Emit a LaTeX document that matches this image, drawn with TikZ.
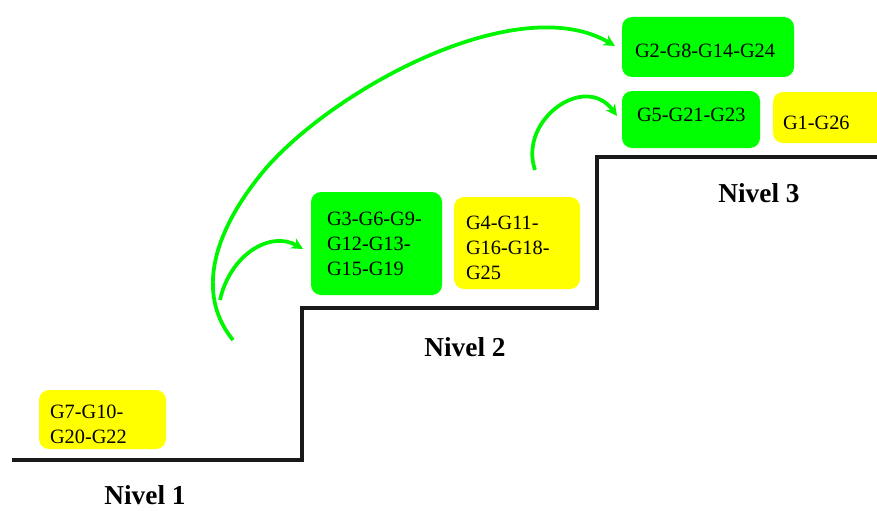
\documentclass[tikz,border=0pt]{standalone}
\usepackage{fontspec}
\setmainfont{Liberation Serif}
\usetikzlibrary{arrows.meta}
\newlength\px \setlength\px{0.75pt}
\definecolor{boxgreen}{RGB}{0,255,0}
\definecolor{boxyellow}{RGB}{255,255,0}
\definecolor{arrowgreen}{RGB}{0,245,0}
\definecolor{stairblack}{RGB}{25,25,25}
\tikzset{
 grpbox/.style={rounded corners=10\px, inner sep=0pt, align=left, font=\fontsize{15.25}{18.75}\selectfont},
 greenbox/.style={grpbox, fill=boxgreen},
 yellowbox/.style={grpbox, fill=boxyellow},
 stair/.style={line width=2.4pt, draw=stairblack},
 jump/.style={line width=2.8pt, draw=arrowgreen, -{Stealth[length=8.5pt,width=8.5pt]}},
 level/.style={font=\fontsize{20.5}{22}\selectfont\bfseries, inner sep=0pt}
}
\begin{document}
\begin{tikzpicture}[x=0.75pt,y=-0.75pt]
\clip (0,0) rectangle (877,510);
\fill[white] (0,0) rectangle (877,510);
% staircase
\draw[stair] (12,460) -- (302,460) -- (302,308) -- (597,308) -- (597,157) -- (890,157);
% level labels
\node[level] (n1) at (145,495) {Nivel 1};
\node[level] (n2) at (465,347) {Nivel 2};
\node[level] (n3) at (759,193.5) {Nivel 3};
% boxes
\node[yellowbox, minimum width=127\px, minimum height=59\px, text width=105\px] (g7) at (102.5,419.5) {\rule{0pt}{17pt}G7-G10-\\G20-G22};
\node[greenbox, minimum width=131\px, minimum height=103\px, text width=99\px] (g3) at (376.5,243.5) {G3-G6-G9-\\G12-G13-\\G15-G19};
\node[yellowbox, minimum width=126\px, minimum height=92\px, text width=102\px] (g4) at (517,243) {\rule{0pt}{18pt}G4-G11-\\G16-G18-\\G25};
\node[greenbox, minimum width=172\px, minimum height=60\px, text width=146\px, text height=15.3pt, text depth=0pt] (g2) at (708,47) {G2-G8-G14-G24};
\node[greenbox, minimum width=138\px, minimum height=57\px, text width=108\px, text height=8pt, text depth=5.45pt] (g5) at (691,119.5) {\mbox{G5-G21-G23}};
\node[yellowbox, minimum width=124\px, minimum height=51\px, text width=104\px, text height=17.55pt, text depth=0pt] (g1) at (835,117.5) {G1-G26};
% arrows
\coordinate (a1s) at (233,340);
\coordinate (a2s) at (220,300);
\coordinate (a3s) at (535,170);
\coordinate (a1e) at (615,46);
\coordinate (a2e) at (303,249);
\coordinate (a3e) at (617,116);
\draw[jump] (a1s) .. controls (200,300) and (205,240) .. (267,167) .. controls (340,85) and (520,-10) .. (a1e);
\draw[jump] (a2s) .. controls (230,255) and (270,230) .. (a2e);
\draw[jump] (a3s) .. controls (518,120) and (585,72) .. (a3e);
\end{tikzpicture}
\end{document}
